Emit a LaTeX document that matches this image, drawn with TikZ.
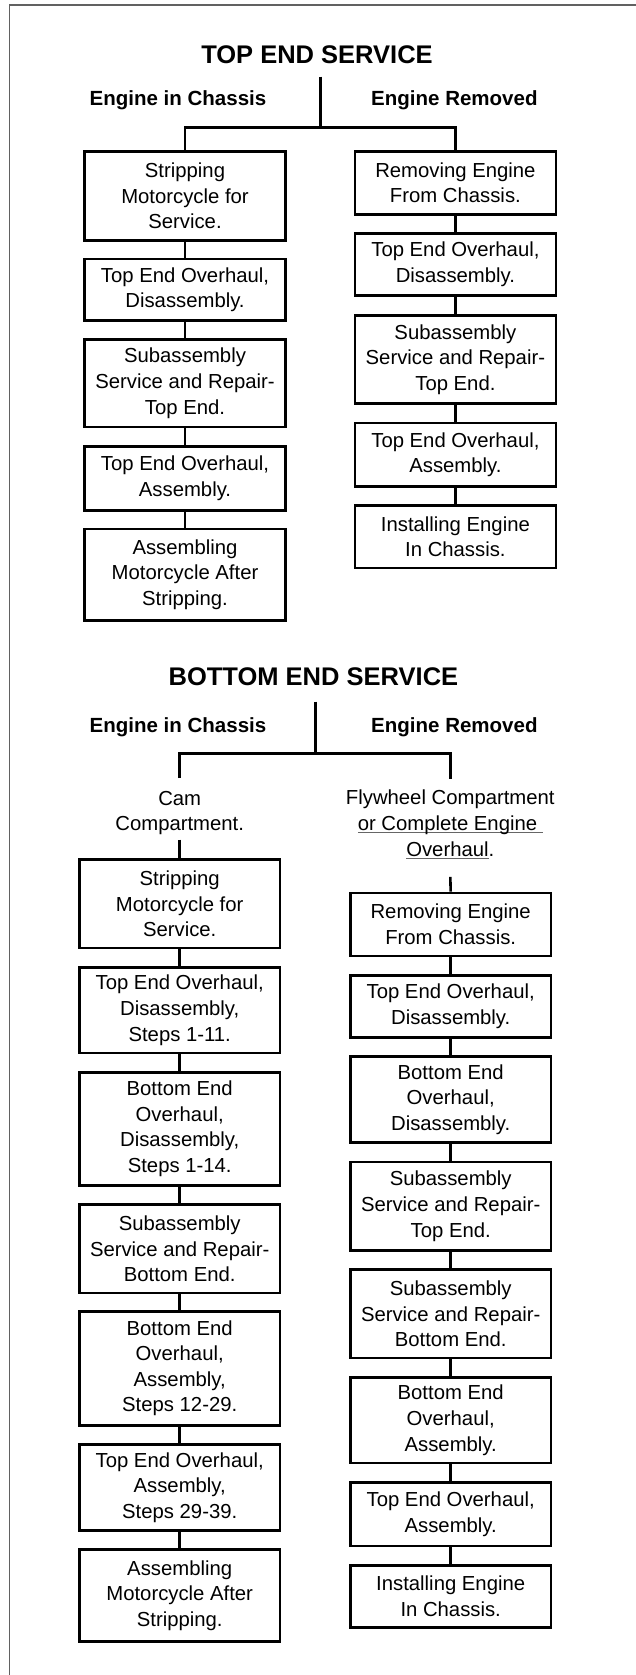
\documentclass[tikz,border=0pt]{standalone}
\usepackage{fontspec}
\setmainfont{Liberation Sans}
\newcommand\bodyfont{\fontsize{20.3}{25.6}\selectfont}
\newcommand\hdrfont{\fontsize{20.5}{24}\selectfont\bfseries}
\newcommand\ttlfont{\fontsize{25.5}{30}\selectfont\bfseries}
\definecolor{framec}{gray}{0.38}
\definecolor{ulgrey}{gray}{0.4}
\newcommand\myul[1]{\setbox0\hbox{#1}\rlap{\color{ulgrey}\rule[-2.6pt]{\wd0}{1.2pt}}\box0}
\tikzset{
  box/.style={draw, line width=2.6pt, align=center, font=\bodyfont, inner sep=0pt, minimum width=200.8pt},
  conn/.style={line width=2.6pt},
  hdr/.style={font=\hdrfont, anchor=base, inner sep=0pt},
  ttl/.style={font=\ttlfont, anchor=base, inner sep=0pt},
  note/.style={align=center, font=\bodyfont, inner sep=0pt},
}
\begin{document}
\begin{tikzpicture}[x=1pt,y=-1pt]
\useasboundingbox (0,0) rectangle (636,1675);
\draw[framec, line width=1.5pt] (9.3,1690) -- (9.3,5) -- (650,5);

% ---------- TOP END SERVICE ----------
\node[ttl] (ttitle) at (317,64) {TOP END SERVICE};
\node[hdr] (thl) at (178,106) {Engine in Chassis};
\node[hdr] (thr) at (454.4,106) {Engine Removed};
\coordinate (tt) at (320.5,76.7);
\coordinate (tj) at (320.5,127.7);

\node[box, minimum height=89.1pt] (L1) at (185,195.8) {Stripping\\Motorcycle for\\Service.};
\node[box, minimum height=61.7pt] (L2) at (185,289.8) {Top End Overhaul,\\Disassembly.};
\node[box, minimum height=87.4pt] (L3) at (185,383.3) {Subassembly\\Service and Repair-\\Top End.};
\node[box, minimum height=64.1pt] (L4) at (185,478.3) {Top End Overhaul,\\Assembly.};
\node[box, minimum height=91.4pt] (L5) at (185,574.7) {Assembling\\Motorcycle After\\Stripping.};

\node[box, minimum height=63.1pt] (R1) at (455.4,182.8) {Removing Engine\\From Chassis.};
\node[box, minimum height=61.8pt] (R2) at (455.4,264.5) {Top End Overhaul,\\Disassembly.};
\node[box, minimum height=88.4pt] (R3) at (455.4,359.5) {Subassembly\\Service and Repair-\\Top End.};
\node[box, minimum height=63.4pt] (R4) at (455.4,454.7) {Top End Overhaul,\\Assembly.};
\node[box, minimum height=62.4pt] (R5) at (455.4,536.8) {Installing Engine\\In Chassis.};

\draw[conn] (tt) -- (tj);
\draw[conn] (L1.north) |- (tj) -| (R1.north);
\draw[conn] (L1.south) -- (L2.north);
\draw[conn] (L2.south) -- (L3.north);
\draw[conn] (L3.south) -- (L4.north);
\draw[conn] (L4.south) -- (L5.north);
\draw[conn] (R1.south) -- (R2.north);
\draw[conn] (R2.south) -- (R3.north);
\draw[conn] (R3.south) -- (R4.north);
\draw[conn] (R4.south) -- (R5.north);

% ---------- BOTTOM END SERVICE ----------
\node[ttl] (btitle) at (313.4,685) {BOTTOM END SERVICE};
\node[hdr] (bhl) at (178,732.7) {Engine in Chassis};
\node[hdr] (bhr) at (454.4,732.7) {Engine Removed};
\coordinate (bt) at (315.6,701.7);
\coordinate (bj) at (315.6,753.3);

\node[note, minimum height=61pt] (cam) at (179.7,808.9) {\rule{0pt}{22pt}Cam\\Compartment.};
\node[note, minimum height=97.4pt] (fly) at (450.3,828) {Flywheel Compartment\\\myul{or Complete Engine\ }\\\myul{Overhaul}.\rule[-9.6pt]{0pt}{9.6pt}};

\node[box, minimum height=88.4pt] (BL1) at (179.7,903.8) {Stripping\\Motorcycle for\\Service.};
\node[box, minimum height=85.7pt] (BL2) at (179.7,1010.2) {Top End Overhaul,\\Disassembly,\\Steps 1-11.};
\node[box, minimum height=113.1pt] (BL3) at (179.7,1128.8) {Bottom End\\Overhaul,\\Disassembly,\\Steps 1-14.};
\node[box, minimum height=88.4pt] (BL4) at (179.7,1248.8) {Subassembly\\Service and Repair-\\Bottom End.};
\node[box, minimum height=114.1pt] (BL5) at (179.7,1368.3) {Bottom End\\Overhaul,\\Assembly,\\Steps 12-29.};
\node[box, minimum height=85.8pt] (BL6) at (179.7,1487.5) {Top End Overhaul,\\Assembly,\\Steps 29-39.};
\node[box, minimum height=92.1pt] (BL7) at (179.7,1595.7) {Assembling\\Motorcycle After\\Stripping.};

\node[box, minimum height=63pt] (BR1) at (450.7,924.5) {Removing Engine\\From Chassis.};
\node[box, minimum height=62.4pt] (BR2) at (450.7,1006.5) {Top End Overhaul,\\Disassembly.};
\node[box, minimum height=86.4pt] (BR3) at (450.7,1099.5) {Bottom End\\Overhaul,\\Disassembly.};
\node[box, minimum height=88.4pt] (BR4) at (450.7,1206.2) {Subassembly\\Service and Repair-\\Top End.};
\node[box, minimum height=88.4pt] (BR5) at (450.7,1313.8) {Subassembly\\Service and Repair-\\Bottom End.};
\node[box, minimum height=85.7pt] (BR6) at (450.7,1420.2) {Bottom End\\Overhaul,\\Assembly.};
\node[box, minimum height=63.7pt] (BR7) at (450.7,1514.2) {Top End Overhaul,\\Assembly.};
\node[box, minimum height=62.4pt] (BR8) at (450.7,1596.5) {Installing Engine\\In Chassis.};

\draw[conn] (bt) -- (bj);
\draw[conn] (cam.north) |- (bj) -| (fly.north);
\draw[conn] (cam.south) -- (BL1.north);
\draw[conn] (fly.south) -- (BR1.north);
\draw[conn] (BL1.south) -- (BL2.north);
\draw[conn] (BL2.south) -- (BL3.north);
\draw[conn] (BL3.south) -- (BL4.north);
\draw[conn] (BL4.south) -- (BL5.north);
\draw[conn] (BL5.south) -- (BL6.north);
\draw[conn] (BL6.south) -- (BL7.north);
\draw[conn] (BR1.south) -- (BR2.north);
\draw[conn] (BR2.south) -- (BR3.north);
\draw[conn] (BR3.south) -- (BR4.north);
\draw[conn] (BR4.south) -- (BR5.north);
\draw[conn] (BR5.south) -- (BR6.north);
\draw[conn] (BR6.south) -- (BR7.north);
\draw[conn] (BR7.south) -- (BR8.north);
\end{tikzpicture}
\end{document}
